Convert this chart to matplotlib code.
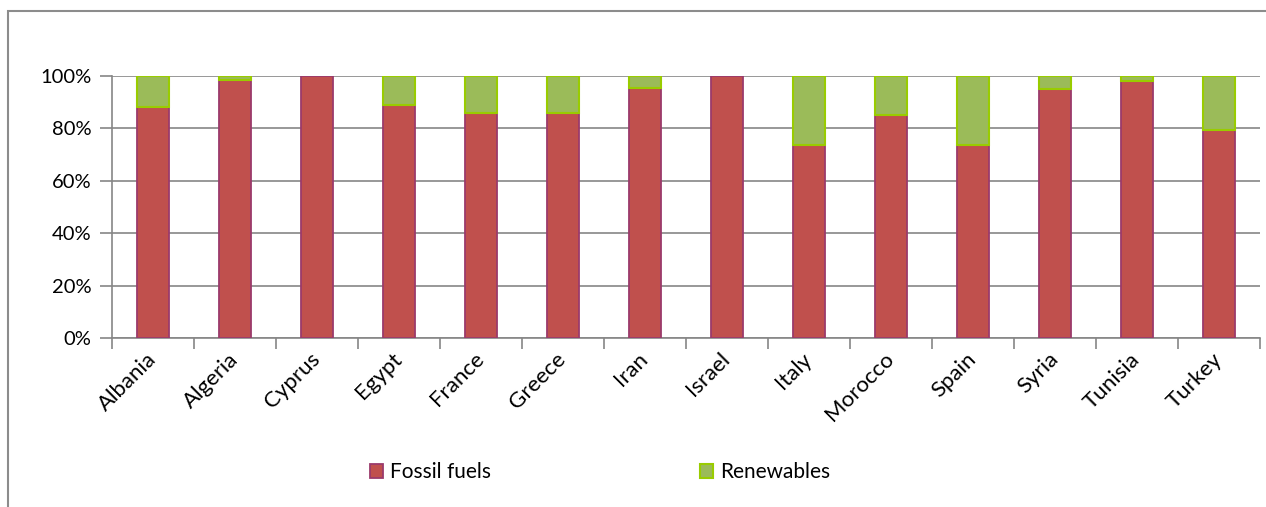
import numpy as np
import matplotlib.pyplot as plt
from matplotlib.patches import Rectangle
from matplotlib.ticker import PercentFormatter

countries = ["Albania", "Algeria", "Cyprus", "Egypt", "France", "Greece", "Iran",
             "Israel", "Italy", "Morocco", "Spain", "Syria", "Tunisia", "Turkey"]
# share of fossil fuels (%), renewables make up the rest
fossil = [88, 98.5, 100, 89, 86, 86, 95.6, 100, 73.7, 85.1, 73.7, 95, 98.1, 79.2]
renewables = [100 - f for f in fossil]

plt.rcParams['font.family'] = ['Lato', 'DejaVu Sans']

fig = plt.figure(figsize=(12.66, 5.07), dpi=100)
ax = fig.add_axes([112 / 1266, 169 / 507, 1148 / 1266, 262 / 507])

# outer chart frame
fig.patches.append(Rectangle((8 / 1266, -0.1), 1.2, (507 - 11) / 507 + 0.1,
                             transform=fig.transFigure, fill=False,
                             edgecolor="#8c8c8c", lw=1.5))

x = np.arange(len(countries))
fos = np.array(fossil) / 100
ren = np.array(renewables) / 100
ax.bar(x, fos, width=0.4, color="#C0504D", edgecolor="#9B3A6B", lw=1.3,
       label="Fossil fuels", zorder=3)
ren_edges = ["#99CC00" if r > 0 else "none" for r in ren]
ax.bar(x, ren, width=0.4, bottom=fos, color="#9BBB59", edgecolor=ren_edges,
       lw=1.5, label="Renewables", zorder=3)

ax.set_xlim(-0.5, len(countries) - 0.5)
ax.set_ylim(0, 1)
ax.set_yticks(np.arange(0, 1.01, 0.2))
ax.yaxis.set_major_formatter(PercentFormatter(1.0, decimals=0))
ax.grid(axis="y", color="#868686", lw=1.2, zorder=0)

ax.set_xticks(x)
ax.set_xticklabels(countries, rotation=45, ha="right", va="center",
                   rotation_mode="anchor", fontsize=16)
ax.set_xticks(np.arange(-0.5, len(countries)), minor=True)
ax.tick_params(axis="x", which="major", length=0, pad=13)
ax.tick_params(axis="x", which="minor", length=8, color="#868686", width=1.2)
ax.tick_params(axis="y", length=9, color="#868686", width=1.2, labelsize=14.5, pad=6)

for side in ["top", "right"]:
    ax.spines[side].set_visible(False)
for side in ["left", "bottom"]:
    ax.spines[side].set_color("#868686")
    ax.spines[side].set_linewidth(1.2)

fig.legend(loc="center", bbox_to_anchor=(0.474, (507 - 472) / 507), ncol=2,
           frameon=False, fontsize=15, handlelength=0.65, handleheight=0.65,
           handletextpad=0.35, columnspacing=10.0)

fig.savefig("out.png", dpi=100)
